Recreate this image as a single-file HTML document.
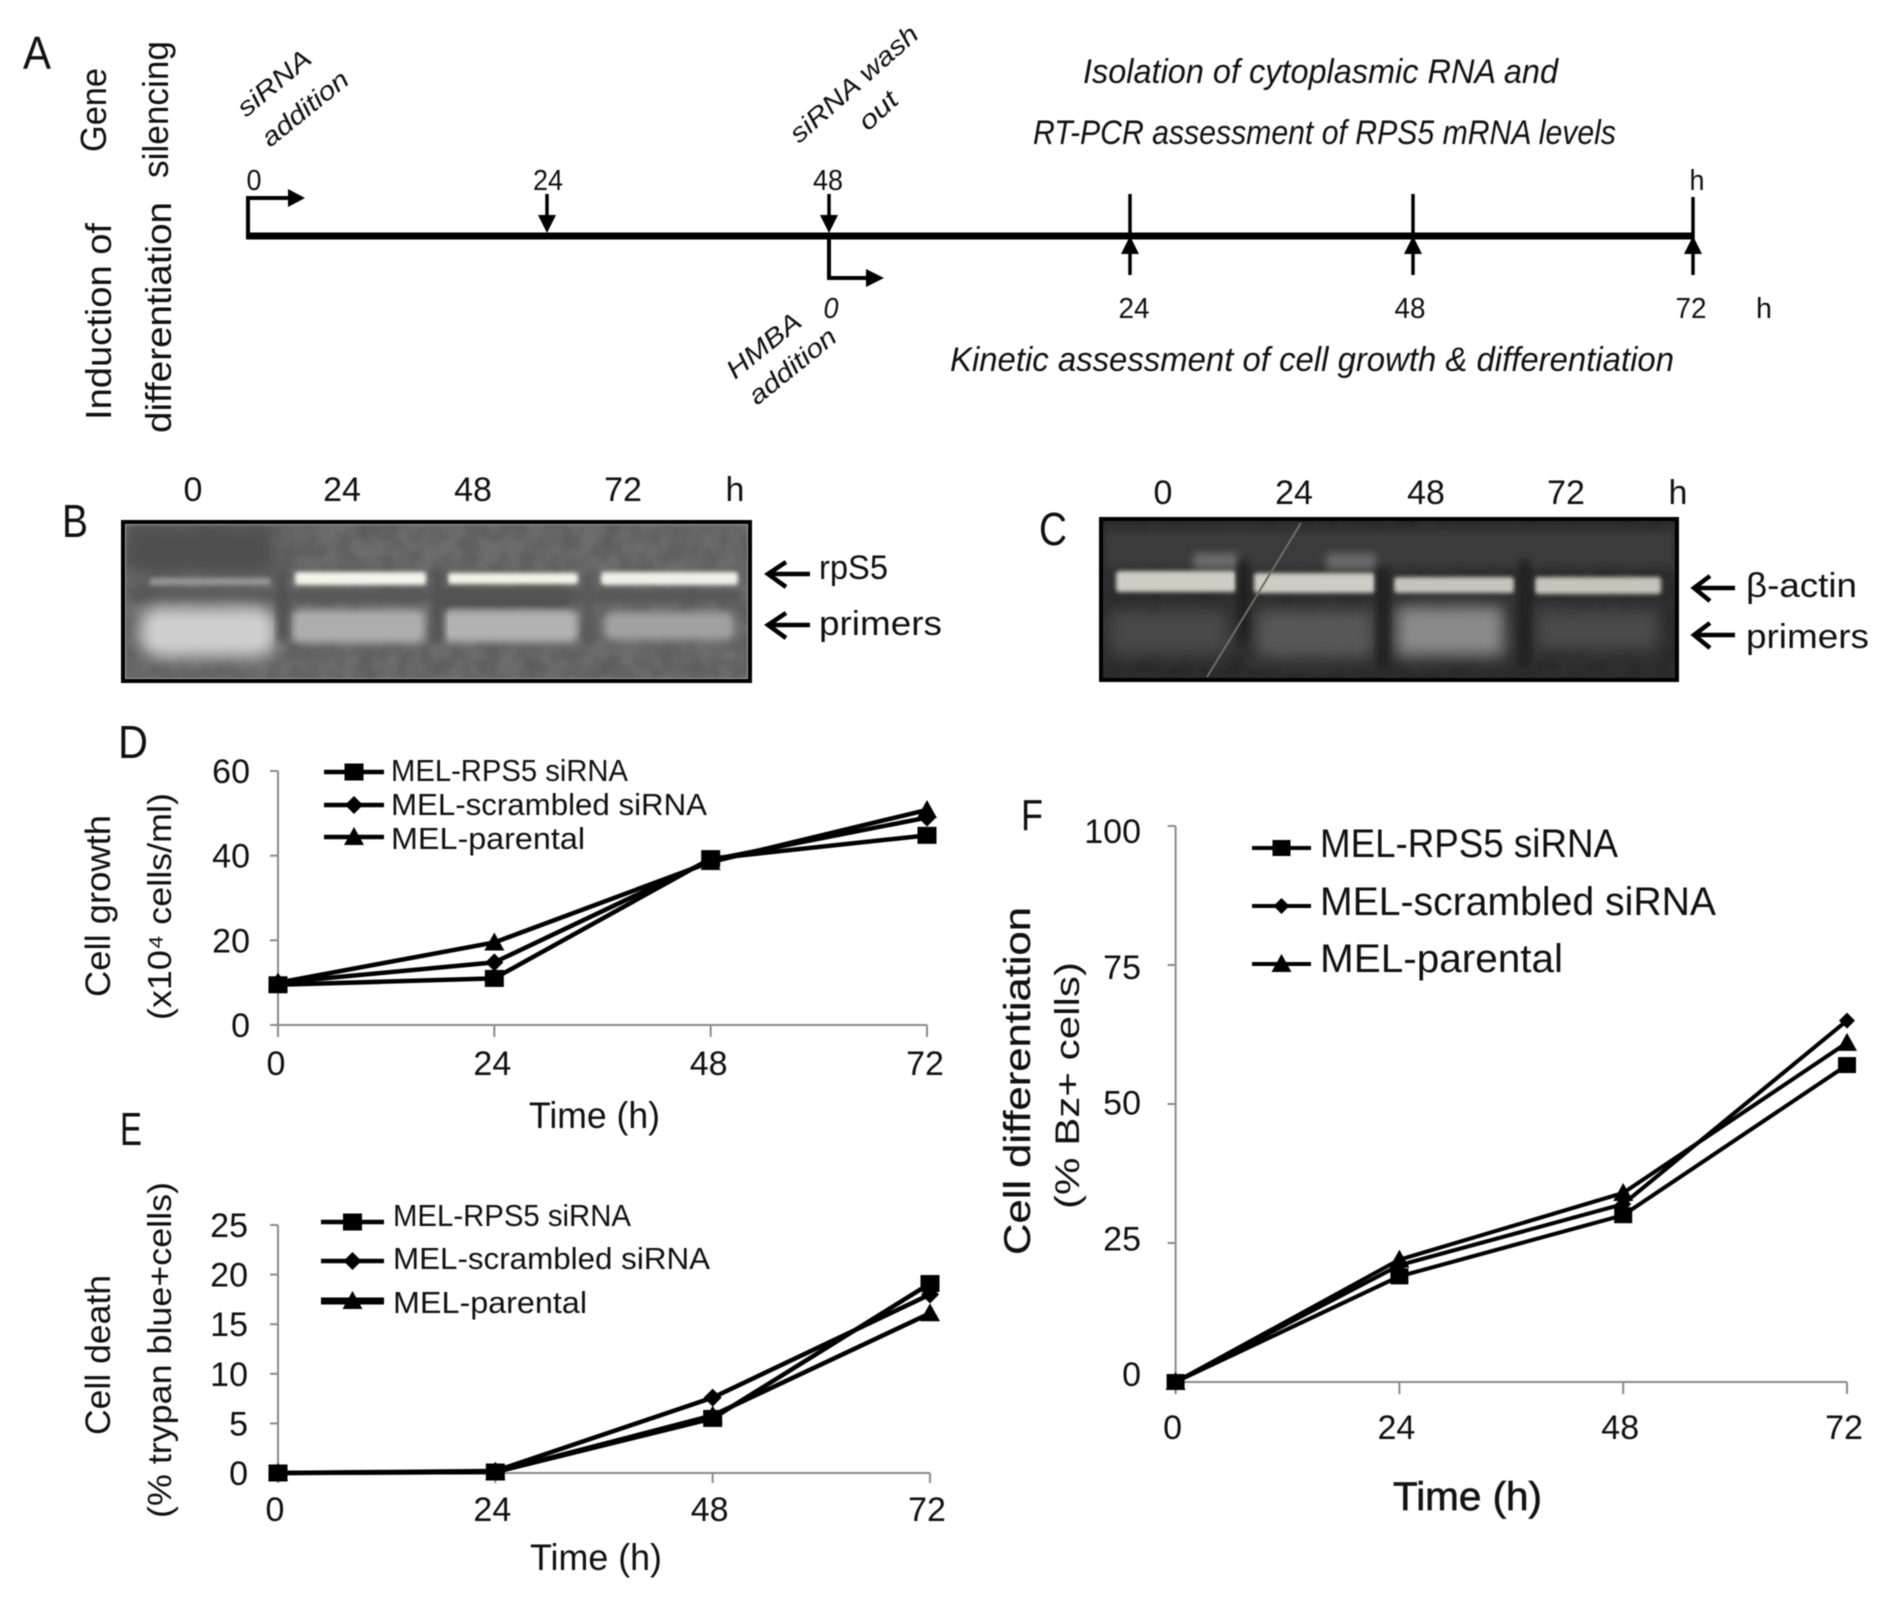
<!DOCTYPE html>
<html lang="en">
<head>
<meta charset="utf-8">
<title>RPS5 silencing figure</title>
<style>
html,body{margin:0;padding:0;background:#fff}
svg{display:block;filter:blur(0.5px)}
text{font-family:"Liberation Sans",sans-serif;fill:#111}
.it{font-style:italic}
</style>
</head>
<body>
<svg id="fig" xmlns="http://www.w3.org/2000/svg" width="1890" height="1598" viewBox="0 0 1890 1598">
<defs>
<filter id="b2" x="-30%" y="-60%" width="160%" height="220%"><feGaussianBlur stdDeviation="2"/></filter>
<filter id="b4" x="-30%" y="-60%" width="160%" height="220%"><feGaussianBlur stdDeviation="4"/></filter>
<filter id="b8" x="-30%" y="-60%" width="160%" height="220%"><feGaussianBlur stdDeviation="8"/></filter>
<filter id="noise" x="0" y="0" width="100%" height="100%"><feTurbulence type="fractalNoise" baseFrequency="0.05" numOctaves="2" seed="4"/><feColorMatrix values="0 0 0 0 0  0 0 0 0 0  0 0 0 0 0  1.2 0 0 0 -0.35"/></filter>
<clipPath id="clipB"><rect x="121" y="520" width="631" height="163"/></clipPath>
<clipPath id="clipC"><rect x="1099" y="517" width="580" height="165"/></clipPath>
</defs>
<rect width="1890" height="1598" fill="#fff"/>

<!-- PANEL A -->
<g>
<text x="23" y="69" font-size="46" textLength="28" lengthAdjust="spacingAndGlyphs">A</text>
<text transform="translate(106,152) rotate(-90)" font-size="36" textLength="84" lengthAdjust="spacingAndGlyphs">Gene</text>
<text transform="translate(168,178) rotate(-90)" font-size="36" textLength="137" lengthAdjust="spacingAndGlyphs">silencing</text>
<text transform="translate(111,420) rotate(-90)" font-size="36" textLength="197" lengthAdjust="spacingAndGlyphs">Induction of</text>
<text transform="translate(171,433) rotate(-90)" font-size="36" textLength="231" lengthAdjust="spacingAndGlyphs">differentiation</text>

<text class="it" transform="translate(246,118) rotate(-40)" font-size="26" textLength="88" lengthAdjust="spacingAndGlyphs">siRNA</text>
<text class="it" transform="translate(270,148) rotate(-39)" font-size="26" textLength="104" lengthAdjust="spacingAndGlyphs">addition</text>
<text class="it" transform="translate(799,144) rotate(-41.5)" font-size="26" textLength="162" lengthAdjust="spacingAndGlyphs">siRNA wash</text>
<text class="it" transform="translate(868,132) rotate(-43)" font-size="26" textLength="44" lengthAdjust="spacingAndGlyphs">out</text>
<text class="it" transform="translate(735,380) rotate(-39)" font-size="26" textLength="88" lengthAdjust="spacingAndGlyphs">HMBA</text>
<text class="it" transform="translate(757,406) rotate(-39)" font-size="26" textLength="105" lengthAdjust="spacingAndGlyphs">addition</text>

<text class="it" x="1083" y="83" font-size="34" textLength="475" lengthAdjust="spacingAndGlyphs">Isolation of cytoplasmic RNA and</text>
<text class="it" x="1033" y="144" font-size="34" textLength="583" lengthAdjust="spacingAndGlyphs">RT-PCR assessment of RPS5 mRNA levels</text>
<text class="it" x="950" y="371" font-size="34" textLength="724" lengthAdjust="spacingAndGlyphs">Kinetic assessment of cell growth &amp; differentiation</text>

<rect x="246" y="232.500" width="1448" height="7" fill="#000"/>
<path d="M248 236V198H292" fill="none" stroke="#000" stroke-width="4"/>
<polygon points="288,189 305,198 288,207" fill="#000"/>
<path d="M829 236V278H870" fill="none" stroke="#000" stroke-width="4"/>
<polygon points="866,269 884,278 866,287" fill="#000"/>
<g><line x1="547" y1="194" x2="547" y2="220" stroke="#000" stroke-width="3.500"/><polygon points="538,215 556,215 547,233" fill="#000"/></g>
<g><line x1="829" y1="194" x2="829" y2="220" stroke="#000" stroke-width="3.500"/><polygon points="820,215 838,215 829,233" fill="#000"/></g>
<g><line x1="1130" y1="194" x2="1130" y2="275" stroke="#000" stroke-width="3.500"/><polygon points="1121,254 1139,254 1130,236" fill="#000"/></g>
<g><line x1="1413" y1="194" x2="1413" y2="275" stroke="#000" stroke-width="3.500"/><polygon points="1404,254 1422,254 1413,236" fill="#000"/></g>
<g><line x1="1693" y1="197" x2="1693" y2="275" stroke="#000" stroke-width="3.500"/><polygon points="1684,254 1702,254 1693,236" fill="#000"/></g>

<g font-size="29" text-anchor="middle">
<text x="254" y="190" textLength="15" lengthAdjust="spacingAndGlyphs">0</text>
<text x="548" y="190" textLength="30" lengthAdjust="spacingAndGlyphs">24</text>
<text x="828" y="190" textLength="30" lengthAdjust="spacingAndGlyphs">48</text>
<text x="1697" y="190" textLength="15" lengthAdjust="spacingAndGlyphs">h</text>
<text class="it" x="831" y="318" textLength="15" lengthAdjust="spacingAndGlyphs">0</text>
<text x="1134" y="318" textLength="31" lengthAdjust="spacingAndGlyphs">24</text>
<text x="1410" y="318" textLength="31" lengthAdjust="spacingAndGlyphs">48</text>
<text x="1691" y="318" textLength="31" lengthAdjust="spacingAndGlyphs">72</text>
<text x="1764" y="318" textLength="16" lengthAdjust="spacingAndGlyphs">h</text>
</g>
</g>

<!-- PANEL B -->
<g>
<text x="62" y="537" font-size="46" textLength="26" lengthAdjust="spacingAndGlyphs">B</text>
<g font-size="34" text-anchor="middle">
<text x="193" y="501">0</text>
<text x="342" y="501">24</text>
<text x="473" y="501">48</text>
<text x="623" y="501">72</text>
<text x="735" y="501">h</text>
</g>
<g clip-path="url(#clipB)">
<rect x="121" y="520" width="631" height="163" fill="#6c6c6c"/>
<rect x="121" y="520" width="631" height="163" filter="url(#noise)" opacity="0.22"/>
<rect x="125" y="524" width="150" height="50" fill="#4f4f4f" filter="url(#b8)"/>
<rect x="440" y="590" width="130" height="18" fill="#464646" filter="url(#b4)"/>
<rect x="130" y="590" width="610" height="12" fill="#575757" filter="url(#b4)"/>
<rect x="140" y="607" width="136" height="50" rx="18" fill="#cfcfcf" filter="url(#b8)"/>
<rect x="292" y="610" width="133" height="33" rx="8" fill="#adadad" filter="url(#b4)"/>
<rect x="442" y="610" width="136" height="32" rx="8" fill="#b2b2b2" filter="url(#b4)"/>
<rect x="604" y="612" width="130" height="28" rx="8" fill="#a0a0a0" filter="url(#b4)"/>
<rect x="150" y="578" width="120" height="7" fill="#969696" filter="url(#b2)"/>
<rect x="295" y="572" width="131" height="13" rx="3" fill="#f4f4ea" filter="url(#b2)"/>
<rect x="448" y="573" width="130" height="11" rx="3" fill="#f4f4ea" filter="url(#b2)"/>
<rect x="601" y="572" width="137" height="13" rx="3" fill="#f0f0e6" filter="url(#b2)"/>
<rect x="277" y="570" width="11" height="72" fill="#515151" filter="url(#b4)"/>
<rect x="432" y="570" width="12" height="72" fill="#535353" filter="url(#b4)"/>
<rect x="584" y="570" width="11" height="72" fill="#5a5a5a" filter="url(#b4)"/>
</g>
<rect x="125.500" y="524.500" width="622" height="154" fill="none" stroke="#a0a0a0" stroke-width="1"/>
<rect x="123" y="522" width="627" height="159" fill="none" stroke="#000" stroke-width="4"/>
<g fill="none" stroke="#000" stroke-width="4.500"><path d="M810 574H768"/><path d="M786 562L768 574L786 587"/></g>
<g fill="none" stroke="#000" stroke-width="4.500"><path d="M810 625H768"/><path d="M786 613L768 625L786 638"/></g>
<text x="819" y="579" font-size="34" textLength="69" lengthAdjust="spacingAndGlyphs">rpS5</text>
<text x="819" y="635" font-size="34" textLength="123" lengthAdjust="spacingAndGlyphs">primers</text>
</g>

<!-- PANEL C -->
<g>
<text x="1039" y="545" font-size="46" textLength="28" lengthAdjust="spacingAndGlyphs">C</text>
<g font-size="34" text-anchor="middle">
<text x="1163" y="504">0</text>
<text x="1294" y="504">24</text>
<text x="1426" y="504">48</text>
<text x="1566" y="504">72</text>
<text x="1678" y="504">h</text>
</g>
<g clip-path="url(#clipC)">
<rect x="1099" y="517" width="580" height="165" fill="#2f2f2f"/>
<rect x="1099" y="517" width="580" height="165" filter="url(#noise)" opacity="0.22"/>
<rect x="1105" y="530" width="570" height="38" fill="#3b3b3b" filter="url(#b4)"/>
<rect x="1193" y="553" width="45" height="16" rx="4" fill="#6a6a6a" filter="url(#b4)"/>
<rect x="1326" y="553" width="50" height="17" rx="4" fill="#676767" filter="url(#b4)"/>
<rect x="1110" y="610" width="118" height="45" fill="#484848" filter="url(#b8)"/>
<rect x="1256" y="610" width="118" height="48" fill="#585858" filter="url(#b8)"/>
<rect x="1396" y="606" width="108" height="50" fill="#8a8a8a" filter="url(#b8)"/>
<rect x="1536" y="610" width="122" height="40" fill="#4b4b4b" filter="url(#b8)"/>
<rect x="1116" y="571" width="120" height="21" rx="3" fill="#cdcdc4" filter="url(#b2)"/>
<rect x="1254" y="573" width="121" height="20" rx="3" fill="#cdcdc4" filter="url(#b2)"/>
<rect x="1394" y="577" width="120" height="16" rx="3" fill="#c4c4ba" filter="url(#b2)"/>
<rect x="1535" y="577" width="126" height="17" rx="3" fill="#c4c4ba" filter="url(#b2)"/>
<rect x="1238" y="560" width="11" height="80" fill="#242424" filter="url(#b4)"/>
<rect x="1377" y="570" width="12" height="100" fill="#242424" filter="url(#b4)"/>
<rect x="1519" y="560" width="12" height="110" fill="#242424" filter="url(#b4)"/>
<line x1="1301" y1="523" x2="1207" y2="677" stroke="#6f6f62" stroke-width="2"/>
</g>
<rect x="1101" y="519" width="576" height="161" fill="none" stroke="#000" stroke-width="4"/>
<g fill="none" stroke="#000" stroke-width="4.500"><path d="M1735 588H1694"/><path d="M1710 576L1694 588L1710 601"/></g>
<g fill="none" stroke="#000" stroke-width="4.500"><path d="M1735 635H1694"/><path d="M1710 623L1694 635L1710 648"/></g>
<text x="1746" y="597" font-size="34" textLength="111" lengthAdjust="spacingAndGlyphs">β-actin</text>
<text x="1746" y="648" font-size="34" textLength="123" lengthAdjust="spacingAndGlyphs">primers</text>
</g>

<!-- PANEL LETTERS AND TITLES FOR CHARTS -->
<text x="118" y="758" font-size="46" textLength="30" lengthAdjust="spacingAndGlyphs">D</text>
<text x="120" y="1145" font-size="46" textLength="22" lengthAdjust="spacingAndGlyphs">E</text>
<text x="1021" y="830" font-size="44" textLength="22" lengthAdjust="spacingAndGlyphs">F</text>

<text transform="translate(110,997) rotate(-90)" font-size="35" textLength="182" lengthAdjust="spacingAndGlyphs">Cell growth</text>
<text transform="translate(171,1020) rotate(-90)" font-size="33" textLength="227" lengthAdjust="spacingAndGlyphs">(x10⁴ cells/ml)</text>
<text x="529" y="1128" font-size="37" textLength="131" lengthAdjust="spacingAndGlyphs">Time (h)</text>

<text transform="translate(110,1435) rotate(-90)" font-size="35" textLength="160" lengthAdjust="spacingAndGlyphs">Cell death</text>
<text transform="translate(171,1518) rotate(-90)" font-size="33" textLength="336" lengthAdjust="spacingAndGlyphs">(% trypan blue+cells)</text>
<text x="530" y="1570" font-size="37" textLength="132" lengthAdjust="spacingAndGlyphs">Time (h)</text>

<text transform="translate(1030,1255) rotate(-90)" font-size="37" stroke="#111" stroke-width="0.300" textLength="348" lengthAdjust="spacingAndGlyphs">Cell differentiation</text>
<text transform="translate(1079,1209) rotate(-90)" font-size="34" textLength="247" lengthAdjust="spacingAndGlyphs">(% Bz+ cells)</text>
<text x="1393" y="1510" font-size="40" stroke="#222" stroke-width="0.700" textLength="149" lengthAdjust="spacingAndGlyphs">Time (h)</text>

<g id="charts"></g>
</svg>

<script>
// Shared categories
const timeHours = [0, 24, 48, 72];
const seriesNames = ['MEL-RPS5 siRNA', 'MEL-scrambled siRNA', 'MEL-parental'];

// Panel D: cell growth
const growthTicks = [0, 20, 40, 60];
const growthRps5 = [9.5, 11, 39.3, 44.8];
const growthScrambled = [10, 14.8, 39, 49];
const growthParental = [10, 19.5, 38.5, 50.8];

// Panel E: cell death
const deathTicks = [0, 5, 10, 15, 20, 25];
const deathRps5 = [0, 0.1, 5.5, 19.1];
const deathScrambled = [0, 0.2, 7.6, 18];
const deathParental = [0, 0.1, 5.8, 16.1];

// Panel F: cell differentiation
const diffTicks = [0, 25, 50, 75, 100];
const diffRps5 = [0, 19, 30, 57];
const diffScrambled = [0, 21, 32, 65];
const diffParental = [0, 22, 34, 61];

const NS = 'http://www.w3.org/2000/svg';
const root = document.getElementById('charts');

function mk(tag, attrs, parent) {
  const el = document.createElementNS(NS, tag);
  for (const k in attrs) el.setAttribute(k, attrs[k]);
  parent.appendChild(el);
  return el;
}

function drawMarker(kind, cx, cy, s, parent) {
  let el;
  if (kind === 0) {
    el = mk('rect', {x: cx - s.w / 2, y: cy - s.h / 2, width: s.w, height: s.h, fill: '#000'}, parent);
  } else if (kind === 1) {
    el = mk('polygon', {points: [cx, cy - s.d, cx + s.d, cy, cx, cy + s.d, cx - s.d, cy].join(' '), fill: '#000'}, parent);
  } else {
    el = mk('polygon', {points: [cx, cy - s.t, cx + s.t, cy + s.t * 0.8, cx - s.t, cy + s.t * 0.8].join(' '), fill: '#000'}, parent);
  }
  return el;
}

function drawChart(c, ticks, series) {
  const g = mk('g', {}, root);
  
  

  const tMin = ticks[0];
  const tMax = ticks[ticks.length - 1];
  const xScale = v => c.x0 + (v - timeHours[0]) / (timeHours[timeHours.length - 1] - timeHours[0]) * (c.x1 - c.x0);
  const yScale = v => c.y0 + (v - tMin) / (tMax - tMin) * (c.yTop - c.y0);

  const yAxis = mk('line', {x1: c.x0, x2: c.x0, y1: yScale(tMax), y2: c.y0 + c.tickLen, stroke: '#8a8a8a', 'stroke-width': 2}, g);
  
  
  const xAxis = mk('line', {x1: c.x0 - 8, x2: c.x1, y1: c.y0, y2: c.y0, stroke: '#8a8a8a', 'stroke-width': 2}, g);
  
  

  ticks.forEach(t => {
    const tick = mk('line', {x1: c.x0 - 8, x2: c.x0, y1: yScale(t), y2: yScale(t), stroke: '#8a8a8a', 'stroke-width': 2}, g);
    
    
    const lab = mk('text', {
      x: c.yLabelX,
      y: yScale(t) + c.yLabelDy + c.yLabelSpread * (t - tMin) / (tMax - tMin),
      'font-size': c.tickFont, 'text-anchor': 'end'
    }, g);
    
    
    lab.textContent = t;
  });

  timeHours.forEach(t => {
    const tick = mk('line', {x1: xScale(t), x2: xScale(t), y1: c.y0, y2: c.y0 + c.tickLen, stroke: '#8a8a8a', 'stroke-width': 2}, g);
    
    
    const lab = mk('text', {x: xScale(t) + c.xLabelDx, y: c.xLabelY, 'font-size': c.tickFont, 'text-anchor': 'middle'}, g);
    
    
    lab.textContent = t;
  });

  const order = [2, 1, 0];
  order.forEach(i => {
    const values = series[i];
    const line = mk('polyline', {
      points: values.map((v, j) => xScale(timeHours[j]) + ',' + yScale(v)).join(' '),
      fill: 'none', stroke: '#000', 'stroke-width': c.lineW, 'stroke-linejoin': 'round'
    }, g);
    
    
    values.forEach((v, j) => {
      const m = drawMarker(i, xScale(timeHours[j]), yScale(v), c.marker, g);
      
      
    });
  });

  seriesNames.forEach((name, i) => {
    const ly = c.legend.lineY[i];
    const sw = mk('line', {x1: c.legend.x0, x2: c.legend.x1, y1: ly, y2: ly, stroke: '#000', 'stroke-width': c.legend.lineW[i]}, g);
    
    
    const lm = drawMarker(i, (c.legend.x0 + c.legend.x1) / 2, ly, c.marker, g);
    
    
    const lt = mk('text', {
      x: c.legend.textX, y: c.legend.base[i], 'font-size': c.legend.font,
      textLength: c.legend.widths[i], lengthAdjust: 'spacingAndGlyphs'
    }, g);
    
    
    lt.textContent = name;
  });
}

drawChart({
  name: 'growth', x0: 278, x1: 927, y0: 1025, yTop: 771, tickLen: 12,
  yLabelX: 250, yLabelDy: 12, yLabelSpread: 0, xLabelY: 1075, xLabelDx: -2, tickFont: 34, lineW: 4.5,
  marker: {w: 19, h: 17, d: 9, t: 10},
  legend: {x0: 324, x1: 384, lineY: [772, 805, 837], lineW: [4.5, 4.5, 4.5], textX: 391,
    base: [781, 815, 849], font: 31, widths: [237, 316, 194]}
}, growthTicks, [growthRps5, growthScrambled, growthParental]);

drawChart({
  name: 'death', x0: 278, x1: 930, y0: 1473, yTop: 1225, tickLen: 10,
  yLabelX: 248, yLabelDy: 12, yLabelSpread: 0, xLabelY: 1521, xLabelDx: -3, tickFont: 34, lineW: 4.5,
  marker: {w: 19, h: 17, d: 9, t: 10},
  legend: {x0: 321, x1: 384, lineY: [1222, 1261, 1301], lineW: [4.5, 4.5, 7], textX: 393,
    base: [1226, 1269, 1313], font: 31, widths: [238, 317, 194]}
}, deathTicks, [deathRps5, deathScrambled, deathParental]);

drawChart({
  name: 'differentiation', x0: 1175.6, x1: 1847, y0: 1382, yTop: 826, tickLen: 12,
  yLabelX: 1141, yLabelDy: 4, yLabelSpread: 13, xLabelY: 1439, xLabelDx: -3, tickFont: 34, lineW: 4,
  marker: {w: 18, h: 16, d: 8, t: 10},
  legend: {x0: 1252, x1: 1311, lineY: [848, 906, 964], lineW: [4, 4, 4], textX: 1320,
    base: [857, 915, 972], font: 40, widths: [298, 396, 243]}
}, diffTicks, [diffRps5, diffScrambled, diffParental]);
</script>
</body>
</html>
